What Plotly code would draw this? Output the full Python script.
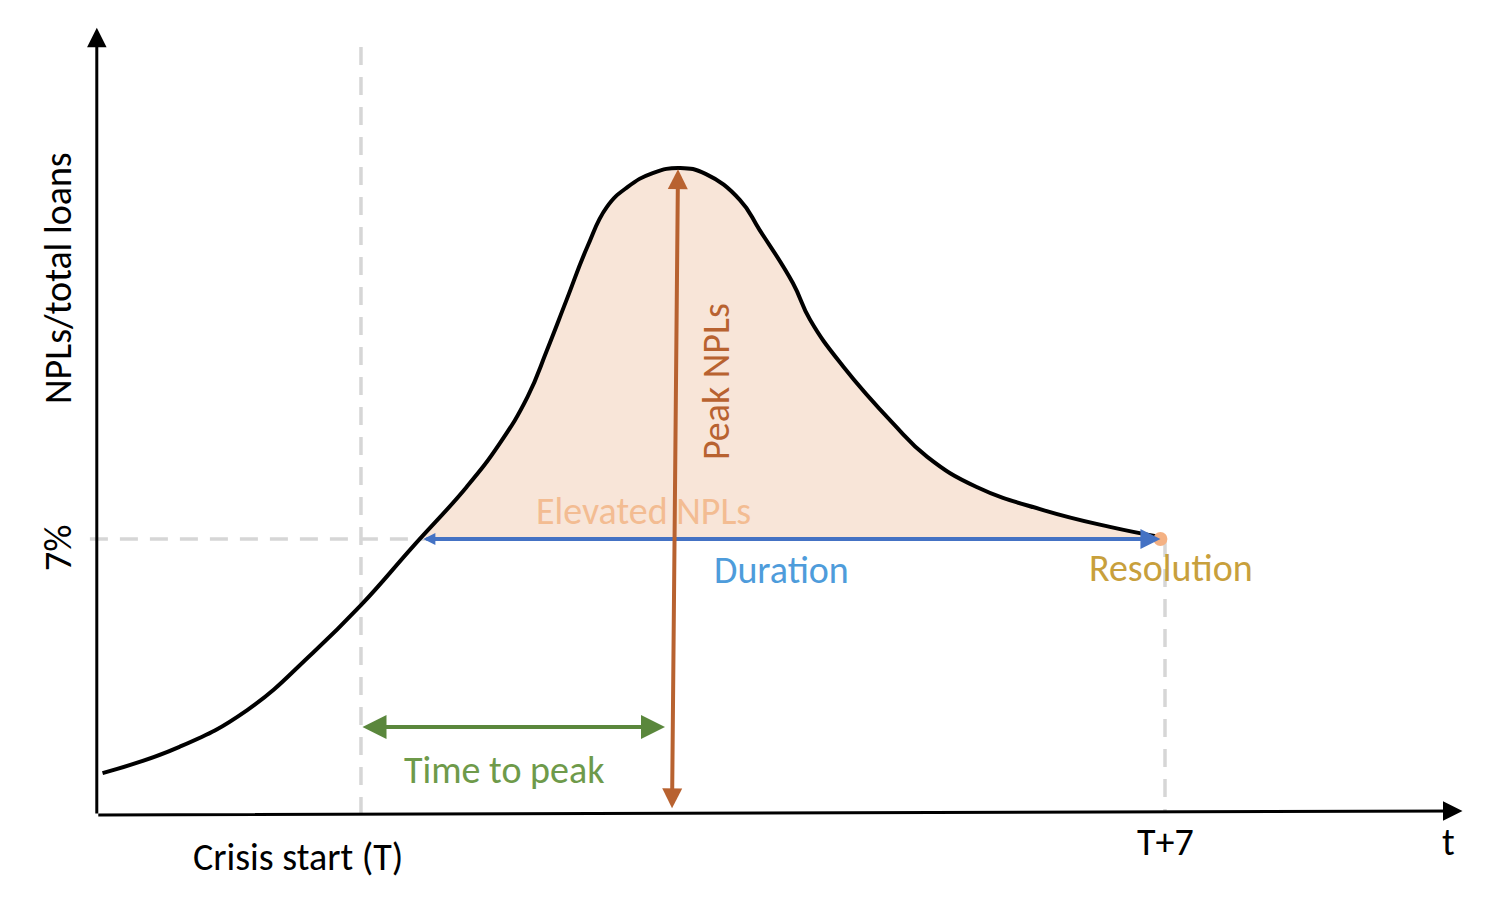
import plotly.graph_objects as go

# NPL ratio path over a banking crisis (years from crisis start T, % of total loans)
t_years = [-2.25, -1.58, -0.99, -0.42, 0.0, 0.45, 0.92, 1.21, 1.45, 1.62, 1.79, 1.97, 2.14,
           2.32, 2.54, 2.78, 3.00, 3.30, 3.47, 3.76, 3.91, 4.20, 4.63, 4.93, 5.36, 5.94,
           6.52, 6.96]
npl_ratio = [1.02, 1.69, 2.63, 4.09, 5.31, 6.80, 8.33, 9.45, 10.63, 11.83, 13.11, 14.46, 15.48,
             15.99, 16.35, 16.48, 16.33, 15.66, 14.90, 13.54, 12.60, 11.40, 9.96, 9.10, 8.33, 7.74,
             7.31, 7.05]

threshold = 7.0          # elevated NPL threshold (%)
elevated_start = 0.53    # curve crosses threshold
resolution_t = 6.96      # curve comes back to threshold
peak_t = 2.76
peak_npl = 16.45
horizon_t = 7.0          # T+7

# axis extents
t_min, t_max = -2.30, 9.59
npl_max = 20.06

font = "Carlito, Lato, sans-serif"
gray = "#D6D6D6"

fig = go.Figure()

# light gray guide lines
fig.add_trace(go.Scatter(x=[t_min - 0.06, resolution_t], y=[threshold, threshold], mode="lines",
                         line=dict(color=gray, width=3.5, dash="18px,12px")))
fig.add_trace(go.Scatter(x=[0, 0], y=[-0.05, 19.8], mode="lines",
                         line=dict(color=gray, width=3.5, dash="18px,12px")))
fig.add_trace(go.Scatter(x=[horizon_t, horizon_t], y=[threshold, 0], mode="lines",
                         line=dict(color=gray, width=3.5, dash="18px,12px")))

# shaded "elevated" area between threshold and curve
fill_t = [elevated_start] + [t for t in t_years if t > elevated_start]
fill_v = [threshold] + [v for t, v in zip(t_years, npl_ratio) if t > elevated_start]
fig.add_trace(go.Scatter(x=[elevated_start, resolution_t], y=[threshold, threshold], mode="lines",
                         line=dict(width=0, color="rgba(0,0,0,0)")))
fig.add_trace(go.Scatter(x=fill_t, y=fill_v, mode="lines", fill="tonexty",
                         fillcolor="#F8E5D8", line=dict(width=0, shape="spline", smoothing=1.3)))

# NPL curve
fig.add_trace(go.Scatter(x=t_years, y=npl_ratio, mode="lines",
                         line=dict(color="black", width=4, shape="spline", smoothing=1.3)))

# resolution point
fig.add_trace(go.Scatter(x=[resolution_t], y=[threshold], mode="markers",
                         marker=dict(color="#F4B183", size=14)))


def arrow(x0, y0, x1, y1, color, width, both=False, size=1.0, start_size=1.0):
    fig.add_annotation(x=x1, y=y1, ax=x0, ay=y0, xref="x", yref="y", axref="x", ayref="y",
                       text="", showarrow=True, arrowhead=2, arrowsize=size, arrowwidth=width,
                       arrowcolor=color, standoff=0, startstandoff=0,
                       arrowside="end+start" if both else "end",
                       startarrowhead=2, startarrowsize=start_size)


def label(x, y, text, color, angle=0):
    fig.add_annotation(x=x, y=y, xref="x", yref="y", text=text, showarrow=False,
                       textangle=angle, font=dict(family=font, size=38, color=color))


# axes with arrow tips
arrow(t_min, -0.05, t_min, npl_max, "black", 3, size=1.3)
arrow(t_min, -0.05, t_max, 0.05, "black", 3, size=1.3)

label(2.464, 7.72, "Elevated NPLs", "#F3BC92")

# duration, peak and time-to-peak arrows
arrow(elevated_start, threshold, resolution_t, threshold, "#4472C4", 4, both=True, size=1.0, start_size=0.6)
arrow(2.708, 0.08, peak_t, peak_npl, "#B86230", 4, both=True)
arrow(0, 2.2, 2.647, 2.2, "#5A873C", 4, both=True, size=1.2, start_size=1.2)

label(-2.638, 13.67, "NPLs/total loans", "black", -90)
label(-2.638, 6.77, "7%", "black", -90)
label(-0.548, -1.12, "Crisis start (T)", "black")
label(horizon_t, -0.74, "T+7", "black")
label(9.472, -0.74, "t", "black")
label(3.091, 11.01, "Peak NPLs", "#B86230", -90)
label(3.657, 6.21, "Duration", "#4E9CDB")
label(7.052, 6.26, "Resolution", "#C8A03C")
label(1.245, 1.10, "Time to peak", "#6E9A4A")

# page pixels 8..1488 / 8..898 (the page body has an 8px margin)
fig.update_layout(
    width=1480, height=890,
    margin=dict(l=0, r=0, t=0, b=0),
    plot_bgcolor="white", paper_bgcolor="white",
    showlegend=False,
    xaxis=dict(range=[-3.073, 9.812], visible=False),
    yaxis=dict(range=[-2.172, 20.567], visible=False),
)

fig.write_html("out.html")
